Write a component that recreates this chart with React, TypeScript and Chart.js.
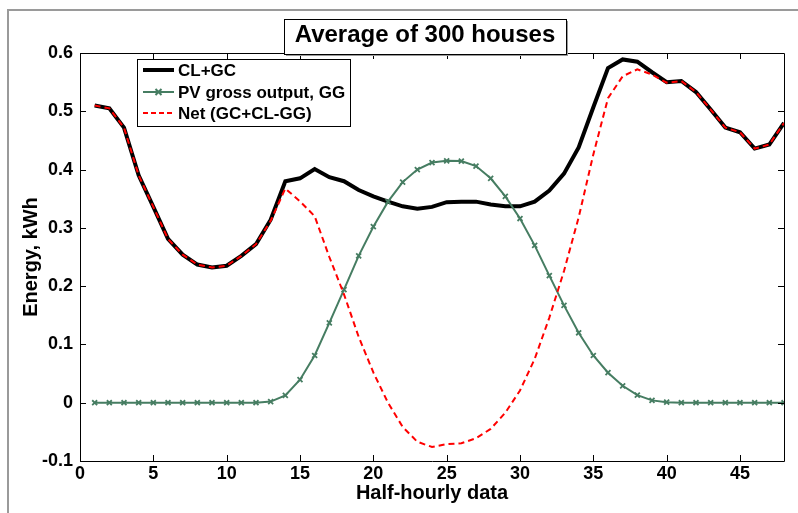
import React, { useEffect, useRef } from 'react';
import { Chart, registerables } from 'chart.js';

Chart.register(...registerables);

// ---- data ----
const HALF_HOURS = Array.from({ length: 48 }, (_, i) => i + 1);

const CL_GC = [
  0.510, 0.505, 0.472, 0.390, 0.336, 0.281, 0.254, 0.237, 0.232, 0.235,
  0.252, 0.272, 0.314, 0.380, 0.385, 0.401, 0.387, 0.380, 0.365, 0.354,
  0.345, 0.337, 0.333, 0.336, 0.344, 0.345, 0.345, 0.340, 0.337, 0.337,
  0.345, 0.364, 0.393, 0.438, 0.507, 0.574, 0.589, 0.585, 0.567, 0.550,
  0.552, 0.533, 0.503, 0.472, 0.464, 0.436, 0.443, 0.480,
];

const PV_GG = [
  0, 0, 0, 0, 0, 0, 0, 0, 0, 0,
  0, 0, 0.002, 0.0125, 0.0395, 0.081, 0.137, 0.194, 0.252, 0.302,
  0.345, 0.3785, 0.400, 0.412, 0.415, 0.4145, 0.406, 0.385, 0.354, 0.316,
  0.270, 0.218, 0.167, 0.120, 0.081, 0.0515, 0.029, 0.013, 0.004, 0.001,
  0, 0, 0, 0, 0, 0, 0, 0,
];

const NET = [
  0.510, 0.505, 0.472, 0.390, 0.336, 0.281, 0.254, 0.237, 0.232, 0.235,
  0.252, 0.272, 0.312, 0.3675, 0.3455, 0.320, 0.250, 0.186, 0.113, 0.052,
  0.000, -0.0415, -0.067, -0.076, -0.071, -0.0695, -0.061, -0.045, -0.017, 0.021,
  0.075, 0.146, 0.226, 0.318, 0.426, 0.5225, 0.560, 0.572, 0.563, 0.549,
  0.552, 0.533, 0.503, 0.472, 0.464, 0.436, 0.443, 0.480,
];

const X_TICKS = [0, 5, 10, 15, 20, 25, 30, 35, 40, 45];
const Y_TICKS = [-0.1, 0, 0.1, 0.2, 0.3, 0.4, 0.5, 0.6];

const TITLE = 'Average of 300 houses';
const X_TITLE = 'Half-hourly data';
const Y_TITLE = 'Energy, kWh';
const LEGEND_LABELS = ['CL+GC', 'PV gross output, GG', 'Net (GC+CL-GG)'];

// ---- styles ----
const FONT = '"Liberation Sans", Arial, Helvetica, sans-serif';
const BLACK = '#000000';
const GREEN = '#467d62';
const RED = '#ff0000';

const W = 798;
const H = 513;

const decorPlugin = {
  id: 'decor',
  beforeDraw(chart: any) {
    const ctx = chart.ctx as CanvasRenderingContext2D;
    ctx.save();
    ctx.fillStyle = '#ffffff';
    ctx.fillRect(0, 0, chart.width, chart.height);
    ctx.strokeStyle = '#9a9a9a';
    ctx.lineWidth = 2;
    ctx.beginPath();
    ctx.moveTo(8, chart.height);
    ctx.lineTo(8, 10);
    ctx.lineTo(chart.width, 10);
    ctx.stroke();
    ctx.restore();
  },
  afterDraw(chart: any) {
    const ctx = chart.ctx as CanvasRenderingContext2D;
    const { left, right, top, bottom } = chart.chartArea;
    const xs = chart.scales.x;
    const ys = chart.scales.y;
    ctx.save();

    // axes box
    ctx.strokeStyle = BLACK;
    ctx.lineWidth = 1;
    ctx.beginPath();
    ctx.rect(Math.round(left) + 0.5, Math.round(top) + 0.5, Math.round(right - left), Math.round(bottom - top));
    ctx.stroke();

    // inward ticks
    const TL = 6;
    ctx.beginPath();
    X_TICKS.forEach((v) => {
      const px = Math.round(xs.getPixelForValue(v)) + 0.5;
      ctx.moveTo(px, bottom);
      ctx.lineTo(px, bottom - TL);
      ctx.moveTo(px, top);
      ctx.lineTo(px, top + TL);
    });
    Y_TICKS.forEach((v) => {
      const py = Math.round(ys.getPixelForValue(v)) + 0.5;
      ctx.moveTo(left, py);
      ctx.lineTo(left + TL, py);
      ctx.moveTo(right, py);
      ctx.lineTo(right - TL, py);
    });
    ctx.stroke();

    // axis titles
    ctx.fillStyle = BLACK;
    ctx.font = `bold 20px ${FONT}`;
    ctx.textAlign = 'center';
    ctx.textBaseline = 'middle';
    ctx.fillText(X_TITLE, (left + right) / 2, 493);
    ctx.save();
    ctx.translate(31, (top + bottom) / 2);
    ctx.rotate(-Math.PI / 2);
    ctx.fillText(Y_TITLE, 0, 0);
    ctx.restore();

    // title box
    const tb = { x: 284, y: 19, w: 282, h: 35 };
    ctx.fillStyle = '#9a9a9a';
    ctx.fillRect(tb.x + 2, tb.y + 2, tb.w, tb.h);
    ctx.fillStyle = '#ffffff';
    ctx.fillRect(tb.x, tb.y, tb.w, tb.h);
    ctx.strokeStyle = BLACK;
    ctx.lineWidth = 1;
    ctx.strokeRect(tb.x + 0.5, tb.y + 0.5, tb.w, tb.h);
    ctx.fillStyle = BLACK;
    ctx.font = `bold 24px ${FONT}`;
    ctx.textAlign = 'center';
    ctx.textBaseline = 'middle';
    ctx.fillText(TITLE, tb.x + tb.w / 2, tb.y + 16);

    // legend box
    const lb = { x: 137, y: 59, w: 213, h: 67 };
    ctx.fillStyle = '#ffffff';
    ctx.fillRect(lb.x, lb.y, lb.w, lb.h);
    ctx.strokeStyle = BLACK;
    ctx.lineWidth = 1;
    ctx.strokeRect(lb.x + 0.5, lb.y + 0.5, lb.w, lb.h);
    const rows = [70, 92, 113];
    const sx0 = 143;
    const sx1 = 174;
    // CL+GC sample
    ctx.strokeStyle = BLACK;
    ctx.lineWidth = 4;
    ctx.beginPath();
    ctx.moveTo(sx0, rows[0]);
    ctx.lineTo(sx1, rows[0]);
    ctx.stroke();
    // PV sample
    ctx.strokeStyle = GREEN;
    ctx.lineWidth = 2;
    ctx.beginPath();
    ctx.moveTo(sx0, rows[1]);
    ctx.lineTo(sx1, rows[1]);
    const mx = (sx0 + sx1) / 2;
    ctx.moveTo(mx - 3, rows[1] - 3);
    ctx.lineTo(mx + 3, rows[1] + 3);
    ctx.moveTo(mx - 3, rows[1] + 3);
    ctx.lineTo(mx + 3, rows[1] - 3);
    ctx.stroke();
    // Net sample
    ctx.strokeStyle = RED;
    ctx.lineWidth = 2;
    ctx.setLineDash([5, 3]);
    ctx.beginPath();
    ctx.moveTo(sx0, rows[2]);
    ctx.lineTo(sx1, rows[2]);
    ctx.stroke();
    ctx.setLineDash([]);

    ctx.fillStyle = BLACK;
    ctx.font = `bold 17px ${FONT}`;
    ctx.textAlign = 'left';
    ctx.textBaseline = 'middle';
    LEGEND_LABELS.forEach((t, i) => ctx.fillText(t, 178, rows[i] + 1));

    ctx.restore();
  },
};

export default function App() {
  const ref = useRef<HTMLCanvasElement | null>(null);

  useEffect(() => {
    if (!ref.current) return;
    const toXY = (arr: number[]) => HALF_HOURS.map((h, i) => ({ x: h, y: arr[i] }));
    const chart = new Chart(ref.current, {
      type: 'line',
      data: {
        datasets: [
          {
            label: LEGEND_LABELS[0],
            data: toXY(CL_GC),
            borderColor: BLACK,
            borderWidth: 4,
            pointRadius: 0,
            tension: 0,
            fill: false,
            order: 3,
          },
          {
            label: LEGEND_LABELS[1],
            data: toXY(PV_GG),
            borderColor: GREEN,
            backgroundColor: GREEN,
            borderWidth: 2,
            pointStyle: 'crossRot',
            pointRadius: 3.5,
            pointBorderWidth: 1.8,
            pointBorderColor: GREEN,
            tension: 0,
            fill: false,
            order: 2,
          },
          {
            label: LEGEND_LABELS[2],
            data: toXY(NET),
            borderColor: RED,
            borderWidth: 2,
            borderDash: [6, 4],
            pointRadius: 0,
            tension: 0,
            fill: false,
            order: 1,
          },
        ],
      },
      options: {
        responsive: false,
        animation: false,
        devicePixelRatio: 1,
        layout: { padding: { top: 53, right: 14, left: 0, bottom: 0 } },
        plugins: {
          legend: { display: false },
          title: { display: false },
          tooltip: { enabled: false },
        },
        scales: {
          x: {
            type: 'linear',
            min: 0,
            max: 48,
            grid: { display: false, drawTicks: false },
            border: { display: false },
            afterBuildTicks: (s: any) => {
              s.ticks = X_TICKS.map((v) => ({ value: v }));
            },
            afterFit: (s: any) => {
              s.height = 52;
            },
            ticks: {
              color: BLACK,
              padding: 2,
              maxRotation: 0,
              autoSkip: false,
              font: { family: FONT, size: 18, weight: 'bold' },
              callback: (v: any) => String(v),
            },
          },
          y: {
            type: 'linear',
            min: -0.1,
            max: 0.6,
            grid: { display: false, drawTicks: false },
            border: { display: false },
            afterBuildTicks: (s: any) => {
              s.ticks = Y_TICKS.map((v) => ({ value: v }));
            },
            afterFit: (s: any) => {
              s.width = 80;
            },
            ticks: {
              color: BLACK,
              padding: 7,
              autoSkip: false,
              font: { family: FONT, size: 18, weight: 'bold' },
              callback: (v: any) => String(Number(Number(v).toFixed(1))),
            },
          },
        },
      },
      plugins: [decorPlugin],
    } as any);
    return () => chart.destroy();
  }, []);

  return (
    <div style={{ position: 'fixed', left: 0, top: 0, width: W, height: H, background: '#fff' }}>
      <canvas ref={ref} width={W} height={H} style={{ width: W, height: H, display: 'block' }} />
    </div>
  );
}
